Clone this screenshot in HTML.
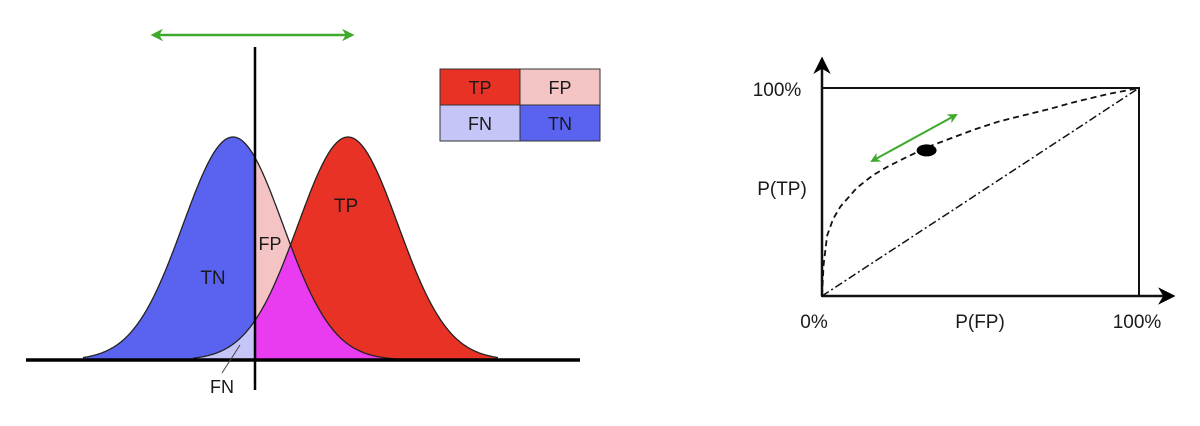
<!DOCTYPE html>
<html><head><meta charset="utf-8"><style>
html,body{margin:0;padding:0;background:#fff;width:1200px;height:426px;overflow:hidden}
svg text{font-family:"Liberation Sans","DejaVu Sans",sans-serif}
</style></head><body>
<svg id="fig" width="1200" height="426" viewBox="0 0 1200 426">
<defs>
<marker id="ga" viewBox="0 0 10 10" refX="8" refY="5" markerWidth="5" markerHeight="5" orient="auto-start-reverse"><path d="M0,0L10,5L0,10L3,5Z" fill="#3fa92c"/></marker>
<marker id="ka" viewBox="0 0 10 10" refX="8" refY="5" markerWidth="7" markerHeight="7" orient="auto"><path d="M0,0L10,5L0,10L3,5Z" fill="#000"/></marker>
</defs>
<g id="left"></g>
<g id="right"></g>
</svg>
<script>
// distribution data (units)
const means = [0, 2.3];          // negative (blue), positive (red)
const sigmas = [1.0, 1.0];
const threshold = 0.44;
// ROC data
const fpr = [0, 0.005, 0.016, 0.035, 0.058, 0.11, 0.16, 0.205, 0.27, 0.34, 0.41, 0.48, 0.56, 0.64, 0.72, 0.79, 0.9, 1];
const tpr = [0, 0.15, 0.29, 0.37, 0.43, 0.52, 0.58, 0.62, 0.67, 0.72, 0.76, 0.80, 0.84, 0.87, 0.90, 0.93, 0.97, 1];
const chancePoints = [0, 1];
const operatingPoint = [0.33, 0.70];

const NS = "http://www.w3.org/2000/svg";
function mk(parent, tag, attrs, name){
  const e = document.createElementNS(NS, tag);
  for (const k in attrs) e.setAttribute(k, attrs[k]);
  
  
  parent.appendChild(e); return e;
}
// ---- left panel ----
const L = document.getElementById('left');
const x0px = 233, unit = 50, baseY = 360, peakH = 223;
const X = u => x0px + u*unit;
const g = (u,i) => Math.exp(-0.5*Math.pow((u-means[i])/sigmas[i],2));
const Y = v => baseY - v*peakH;
const lo = -3.0, hi = 5.3, step = 0.02;
function area(fn, a, b){
  let d = `M${X(a)},${baseY}`;
  for (let u=a; u<=b+1e-9; u+=step) d += `L${X(u).toFixed(1)},${Y(fn(u)).toFixed(1)}`;
  d += `L${X(b)},${Y(fn(b)).toFixed(1)}L${X(b)},${baseY}Z`; return d;
}
mk(L,'path',{d:area(u=>g(u,0),lo,threshold),fill:'#5a63f0'},'tn-area');
mk(L,'path',{d:area(u=>g(u,1),lo,threshold),fill:'#c5c5f8'},'fn-area');
mk(L,'path',{d:area(u=>g(u,0),threshold,hi),fill:'#f4c4c4'},'fp-area');
mk(L,'path',{d:area(u=>g(u,1),threshold,hi),fill:'#e93226'},'tp-area');
mk(L,'path',{d:area(u=>Math.min(g(u,0),g(u,1)),threshold,hi),fill:'#e93cf0'},'overlap-area');
function line(i,a,b){let d='';for(let u=a;u<=b+1e-9;u+=step)d+=(d?'L':'M')+X(u).toFixed(1)+','+Y(g(u,i)).toFixed(1);return d;}
mk(L,'path',{d:line(0,lo,hi-2),fill:'none',stroke:'#222','stroke-width':1.3},'negative-curve');
mk(L,'path',{d:line(1,lo+2.2,hi),fill:'none',stroke:'#222','stroke-width':1.3},'positive-curve');
mk(L,'line',{x1:26,y1:baseY,x2:580,y2:baseY,stroke:'#000','stroke-width':3.5},'baseline');
mk(L,'line',{x1:X(threshold),y1:47,x2:X(threshold),y2:390,stroke:'#000','stroke-width':2.5},'threshold-line');
mk(L,'line',{x1:153,y1:35,x2:352,y2:35,stroke:'#3fa92c','stroke-width':2.5,'marker-start':'url(#ga)','marker-end':'url(#ga)'},'threshold-move-arrow');
const t=(p,x,y,s,txt,n,anchor)=>{const e=mk(p,'text',{x:x,y:y,'font-size':s,fill:'#1a1a1a','text-anchor':anchor||'middle'},n);e.textContent=txt;return e;};
t(L,213,284,19,'TN','tn-label');
t(L,270,250,18,'FP','fp-label');
t(L,346,212,19,'TP','tp-label');
t(L,222,393,18,'FN','fn-label');
mk(L,'line',{x1:222,y1:373,x2:240,y2:345,stroke:'#444','stroke-width':1},'fn-pointer');
// legend
const lg=[['TP','#e93226',440,69],['FP','#f4c4c4',520,69],['FN','#c5c5f8',440,105],['TN','#5a63f0',520,105]];
lg.forEach(([s,c,x,y])=>{
  mk(L,'rect',{x:x,y:y,width:80,height:36,fill:c,stroke:'#333','stroke-width':1},'legend-'+s.toLowerCase());
  t(L,x+40,y+25,18,s,'legend-label-'+s.toLowerCase());
});
// ---- right panel ----
const R = document.getElementById('right');
const bx0=822,bx1=1139,by0=296,by1=88;
const RX=v=>bx0+v*(bx1-bx0), RY=v=>by0-v*(by0-by1);
mk(R,'rect',{x:bx0,y:by1,width:bx1-bx0,height:by0-by1,fill:'none',stroke:'#111','stroke-width':2},'plot-box');
mk(R,'line',{x1:bx0,y1:by0,x2:bx0,y2:60,stroke:'#111','stroke-width':2.5,'marker-end':'url(#ka)'},'y-axis');
mk(R,'line',{x1:bx0,y1:by0,x2:1172,y2:by0,stroke:'#111','stroke-width':2.5,'marker-end':'url(#ka)'},'x-axis');
const d = fpr.map((f,i)=>(i?'L':'M')+RX(f).toFixed(1)+','+RY(tpr[i]).toFixed(1)).join('');
mk(R,'path',{d:d,fill:'none',stroke:'#111','stroke-width':1.8,'stroke-dasharray':'6 4','stroke-linejoin':'round'},'roc-curve');
mk(R,'line',{x1:RX(chancePoints[0]),y1:RY(chancePoints[0]),x2:RX(chancePoints[1]),y2:RY(chancePoints[1]),stroke:'#111','stroke-width':1.5,'stroke-dasharray':'8 3 2 3'},'chance-line');
mk(R,'ellipse',{cx:RX(operatingPoint[0]),cy:RY(operatingPoint[1]),rx:10,ry:6,fill:'#000'},'operating-point');
mk(R,'line',{x1:872,y1:161,x2:956,y2:115,stroke:'#3fa92c','stroke-width':2,'marker-start':'url(#ga)','marker-end':'url(#ga)'},'operating-point-arrow');
t(R,777,96,19,'100%','y-tick-100');
t(R,782,195,19,'P(TP)','y-axis-title');
t(R,814,328,19,'0%','x-tick-0');
t(R,980,328,19,'P(FP)','x-axis-title');
t(R,1137,328,19,'100%','x-tick-100');
</script>
</body></html>
